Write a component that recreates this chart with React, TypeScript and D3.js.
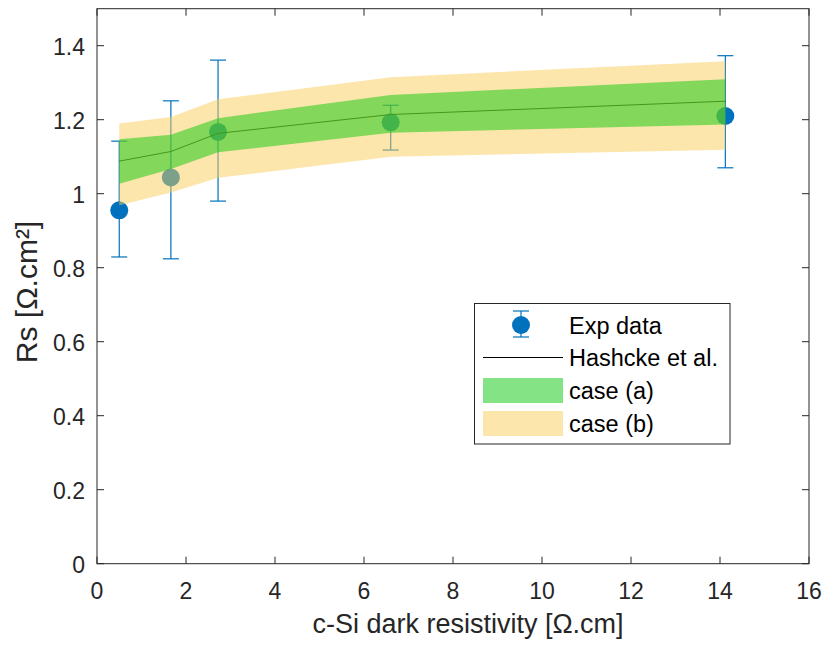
import React from "react";
import * as d3 from "d3";

const resistivity = [0.5, 1.66, 2.72, 6.6, 14.12];
const expRs = [0.955, 1.044, 1.167, 1.193, 1.21];
const expLow = [0.829, 0.824, 0.98, 1.118, 1.07];
const expHigh = [1.142, 1.251, 1.361, 1.239, 1.373];
const haschkeRs = [1.088, 1.114, 1.163, 1.214, 1.25];
const caseALow = [1.027, 1.067, 1.112, 1.165, 1.187];
const caseAHigh = [1.147, 1.159, 1.204, 1.267, 1.309];
const caseBLow = [0.969, 1.003, 1.043, 1.1, 1.119];
const caseBHigh = [1.19, 1.207, 1.255, 1.315, 1.358];
const xTicks = [0, 2, 4, 6, 8, 10, 12, 14, 16];
const yTicks = [0, 0.2, 0.4, 0.6, 0.8, 1, 1.2, 1.4];
const legendLabels = ["Exp data", "Hashcke et al.", "case (a)", "case (b)"];

const W = 822;
const H = 650;
const L = 97, R = 809, T = 8.7, B = 563.7;
const FONT = "'Liberation Sans', Arial, Helvetica, sans-serif";
const AX = "#262626";
const BLUE = "rgb(0,114,189)";
const GREEN = "rgb(10,200,10)";
const YELLOW = "rgb(249,206,90)";

export default function App() {
  const x = d3.scaleLinear().domain([0, 16]).range([L, R]);
  const y = d3.scaleLinear().domain([0, 1.5]).range([B, T]);
  const idx = resistivity.map((_, i) => i);
  const band = (lo: number[], hi: number[]) =>
    d3
      .area<number>()
      .x((i) => x(resistivity[i]))
      .y0((i) => y(lo[i]))
      .y1((i) => y(hi[i]))(idx) || "";
  const line =
    d3
      .line<number>()
      .x((i) => x(resistivity[i]))
      .y((i) => y(haschkeRs[i]))(idx) || "";
  const tickLen = 7;
  const cap = 8;

  const lgX0 = 474.5, lgY0 = 303.5, lgX1 = 730, lgY1 = 444;
  const rowY = [325, 357.5, 390, 423.5];

  return (
    <svg
      width={W}
      height={H}
      style={{ position: "absolute", left: 0, top: 0, background: "#fff" }}
      fontFamily={FONT}
    >
      <rect x={0} y={0} width={W} height={H} fill="#fff" />
      {/* error bars and markers */}
      {idx.map((i) => (
        <g key={"e" + i} stroke={BLUE} strokeWidth={1.2}>
          <line x1={x(resistivity[i])} x2={x(resistivity[i])} y1={y(expLow[i])} y2={y(expHigh[i])} />
          <line x1={x(resistivity[i]) - cap} x2={x(resistivity[i]) + cap} y1={y(expLow[i])} y2={y(expLow[i])} />
          <line x1={x(resistivity[i]) - cap} x2={x(resistivity[i]) + cap} y1={y(expHigh[i])} y2={y(expHigh[i])} />
          <circle cx={x(resistivity[i])} cy={y(expRs[i])} r={9} fill={BLUE} stroke="none" />
        </g>
      ))}
      <path d={line} fill="none" stroke="#000" strokeWidth={1} />
      <path d={band(caseBLow, caseBHigh)} fill={YELLOW} fillOpacity={0.5} />
      <path d={band(caseALow, caseAHigh)} fill={GREEN} fillOpacity={0.5} />

      {/* axes box */}
      <rect x={L} y={T} width={R - L} height={B - T} fill="none" stroke={AX} strokeWidth={1} />
      {xTicks.map((t) => (
        <g key={"x" + t}>
          <line x1={x(t)} x2={x(t)} y1={B} y2={B - tickLen} stroke={AX} />
          <line x1={x(t)} x2={x(t)} y1={T} y2={T + tickLen} stroke={AX} />
          <text x={x(t)} y={B + 35} textAnchor="middle" fontSize={23} fill={AX}>
            {t}
          </text>
        </g>
      ))}
      {yTicks.map((t) => (
        <g key={"y" + t}>
          <line x1={L} x2={L + tickLen} y1={y(t)} y2={y(t)} stroke={AX} />
          <line x1={R} x2={R - tickLen} y1={y(t)} y2={y(t)} stroke={AX} />
          <text x={L - 12} y={y(t) + 9.5} textAnchor="end" fontSize={23} fill={AX}>
            {d3.format("~g")(t)}
          </text>
        </g>
      ))}
      <text x={(L + R) / 2 + 15} y={633} textAnchor="middle" fontSize={27} fill={AX}>
        c-Si dark resistivity [Ω.cm]
      </text>
      <text
        transform={`translate(37,292) rotate(-90)`}
        textAnchor="middle"
        fontSize={30}
        fill={AX}
      >
        Rs [Ω.cm²]
      </text>

      {/* legend */}
      <rect x={lgX0} y={lgY0} width={lgX1 - lgX0} height={lgY1 - lgY0} fill="#fff" stroke={AX} strokeWidth={1} />
      <g stroke={BLUE} strokeWidth={1.2}>
        <line x1={521} x2={521} y1={311} y2={337} />
        <line x1={513} x2={529} y1={311} y2={311} />
        <line x1={513} x2={529} y1={337} y2={337} />
        <circle cx={521} cy={rowY[0]} r={9} fill={BLUE} stroke="none" />
      </g>
      <line x1={483} x2={563} y1={rowY[1]} y2={rowY[1]} stroke="#000" strokeWidth={1} />
      <rect x={483} y={378} width={80} height={25} fill={GREEN} fillOpacity={0.5} />
      <rect x={483} y={411} width={80} height={25} fill={YELLOW} fillOpacity={0.5} />
      {legendLabels.map((s, i) => (
        <text key={s} x={569} y={rowY[i] + 8.5} fontSize={23.5} fill="#000">
          {s}
        </text>
      ))}
    </svg>
  );
}
